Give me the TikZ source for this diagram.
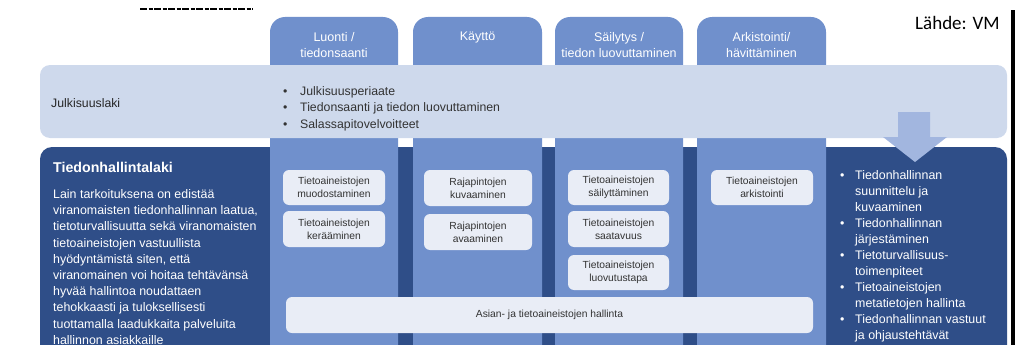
\documentclass[tikz,border=0pt]{standalone}
\usepackage{fontspec}
\setmainfont{Liberation Sans}
\newfontfamily\calibrifont{Carlito}
\definecolor{lightband}{HTML}{CED9EC}
\definecolor{colblue}{HTML}{7090CC}
\definecolor{darkblue}{HTML}{2F4E88}
\definecolor{arrowblue}{HTML}{A2B6DF}
\definecolor{boxfill}{HTML}{E9EDF6}
\definecolor{txtgray}{HTML}{333333}
\tikzset{
  colshape/.style={fill=colblue, rounded corners=15pt},
  tabtext/.style={text=white, font=\fontsize{12.5}{16}\selectfont, align=center, inner sep=0pt},
  smallbox/.style={fill=boxfill, rounded corners=6pt, text=txtgray, font=\fontsize{10.3}{13.3}\selectfont, align=center, inner sep=0pt},
  bodytext/.style={text=white, font=\fontsize{12.4}{16.2}\selectfont, align=left, inner sep=0pt},
  bandtext/.style={text=txtgray, font=\fontsize{12.3}{16.3}\selectfont, align=left, inner sep=0pt},
}
\newcommand{\bul}[1]{\makebox[#1][l]{\textbullet}}
\begin{document}
\begin{tikzpicture}[x=1pt,y=-1pt]
\useasboundingbox (0,0) rectangle (1019,345);
\clip (0,0) rectangle (1019,345);
% cut-off text remnant at top
\draw[line width=1.6pt, dash pattern=on 7pt off 1.5pt on 4pt off 1.5pt] (140,9) -- (253,9);
% dark box
\fill[darkblue, rounded corners=12pt] (40,147) rectangle (1007,380);
% columns
\fill[colshape] (270,17) rectangle (398,380);
\fill[colshape] (413,17) rectangle (542,380);
\fill[colshape] (555,17) rectangle (683,380);
\fill[colshape] (697,17) rectangle (826,380);
% light band
\fill[lightband, rounded corners=10pt] (40,65) rectangle (1007,138);
% arrow
\fill[arrowblue] (898,112) -- (930,112) -- (930,137) -- (947,137) -- (915,162) -- (883,137) -- (898,137) -- cycle;
% right border line
\fill[black] (1011,10) rectangle (1014.5,345);
% tab labels
\node[tabtext] (t1) at (334,45.5) {Luonti /\\tiedonsaanti};
\node[tabtext] (t2) at (477.5,37) {Käyttö};
\node[tabtext] (t3) at (619,45.5) {Säilytys /\\tiedon luovuttaminen};
\node[tabtext] (t4) at (761.5,45.5) {Arkistointi/\\hävittäminen};
% source
\node[font=\calibrifont\fontsize{19}{22}\selectfont, anchor=base west, inner sep=0pt] (src) at (915,30) {Lähde: VM};
% band texts
\node[text=black!85, font=\fontsize{12.3}{15}\selectfont, anchor=west, inner sep=0pt] (jl) at (51,103) {Julkisuuslaki};
\node[bandtext, anchor=base west] (jlb) at (283,128.1) {\bul{17pt}Julkisuusperiaate\\\bul{17pt}Tiedonsaanti ja tiedon luovuttaminen\\\bul{17pt}Salassapitovelvoitteet};
% dark box texts
\node[text=white, font=\bfseries\fontsize{14.2}{17}\selectfont, anchor=base west, inner sep=0pt] (thl) at (53,172) {Tiedonhallintalaki};
\node[bodytext, anchor=base west] (para) at (53,344.3) {Lain tarkoituksena on edistää\\viranomaisten tiedonhallinnan laatua,\\tietoturvallisuutta sekä viranomaisten\\tietoaineistojen vastuullista\\hyödyntämistä siten, että\\viranomainen voi hoitaa tehtävänsä\\hyvää hallintoa noudattaen\\tehokkaasti ja tuloksellisesti\\tuottamalla laadukkaita palveluita\\hallinnon asiakkaille};
\node[bodytext, font=\fontsize{12.4}{16}\selectfont, anchor=base west] (rlist) at (840,339.5) {\bul{15pt}Tiedonhallinnan\\\hspace*{15pt}suunnittelu ja\\\hspace*{15pt}kuvaaminen\\\bul{15pt}Tiedonhallinnan\\\hspace*{15pt}järjestäminen\\\bul{15pt}Tietoturvallisuus-\\\hspace*{15pt}toimenpiteet\\\bul{15pt}Tietoaineistojen\\\hspace*{15pt}metatietojen hallinta\\\bul{15pt}Tiedonhallinnan vastuut\\\hspace*{15pt}ja ohjaustehtävät};
% small boxes
\node[smallbox, minimum width=102pt, minimum height=35pt] (b11) at (334,187.5) {Tietoaineistojen\\muodostaminen};
\node[smallbox, minimum width=102pt, minimum height=36pt] (b12) at (334,229) {Tietoaineistojen\\kerääminen};
\node[smallbox, minimum width=108pt, minimum height=36pt] (b21) at (478,188) {Rajapintojen\\kuvaaminen};
\node[smallbox, minimum width=108pt, minimum height=36pt] (b22) at (478,232) {Rajapintojen\\avaaminen};
\node[smallbox, minimum width=101pt, minimum height=35pt] (b31) at (618.5,187.5) {Tietoaineistojen\\säilyttäminen};
\node[smallbox, minimum width=101pt, minimum height=36pt] (b32) at (618.5,229) {Tietoaineistojen\\saatavuus};
\node[smallbox, minimum width=101pt, minimum height=35pt] (b33) at (618.5,272.5) {Tietoaineistojen\\luovutustapa};
\node[smallbox, minimum width=102pt, minimum height=35pt] (b41) at (762,187.5) {Tietoaineistojen\\arkistointi};
\node[smallbox, minimum width=527pt, minimum height=36pt, font=\fontsize{10.3}{13}\selectfont] (wide) at (549.5,315) {Asian- ja tietoaineistojen hallinta};
\end{tikzpicture}
\end{document}
